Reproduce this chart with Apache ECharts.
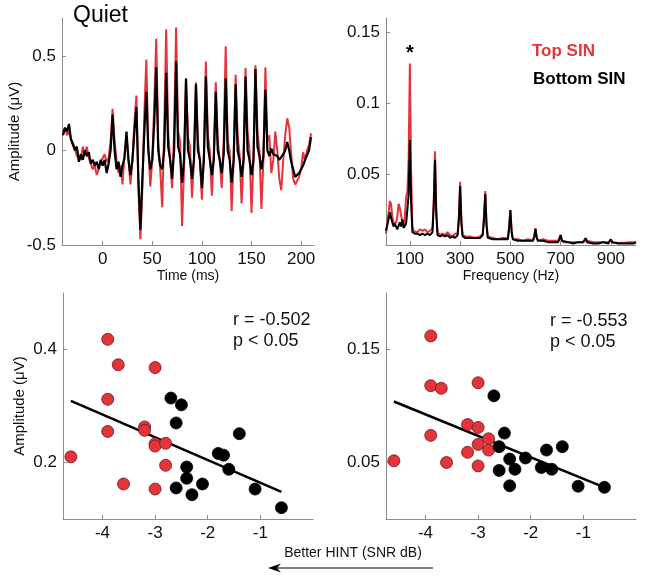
<!DOCTYPE html>
<html>
<head>
<meta charset="utf-8">
<script src="https://cdn.jsdelivr.net/npm/echarts@6/dist/echarts.min.js"></script>
<style>
html,body{margin:0;padding:0;background:#fff;}
#c{width:645px;height:582px;}
</style>
</head>
<body>
<div id="c"></div>
<script>
// ---------- Data ----------
// Panel A: response waveform (time in ms, amplitude in µV)
const erpTime = [
  -40,-38,-36,-34,-32,-30,-28,-26,-24,-22,
  -20,-18,-16,-14,-12,-10,-8,-6,-4,-2,
  0,2,4,6,8,10,12,14,16,18,
  20,22,24,26,28,30,32,34,36,38,
  40,42,44,46,48,50,52,54,56,58,
  60,62,64,66,68,70,72,74,76,78,
  80,82,84,86,88,90,92,94,96,98,
  100,102,104,106,108,110,112,114,116,118,
  120,122,124,126,128,130,132,134,136,138,
  140,142,144,146,148,150,152,154,156,158,
  160,162,164,166,168,170,172,174,176,178,
  180,182,184,186,188,190,192,194,196,198,
  200,202,204,206,208,210
];
const erpTop = [
  0.10,0.12,0.08,0.10,0.06,0.04,0.01,-0.03,-0.02,-0.05,
  0.02,-0.02,0.02,-0.04,-0.03,-0.10,-0.08,-0.13,-0.10,-0.06,
  -0.05,-0.02,-0.06,-0.04,0.05,0.22,0.05,-0.05,-0.12,-0.08,
  -0.18,-0.02,0.08,-0.05,-0.18,-0.05,0.15,0.29,-0.20,-0.47,
  -0.20,0.20,0.48,0.02,-0.19,-0.05,0.25,0.59,0.05,-0.10,
  -0.30,0.10,0.64,0.10,-0.05,-0.20,0.10,0.65,0.10,0.05,
  -0.40,-0.10,0.38,0.07,0.02,-0.25,-0.05,0.36,0.05,-0.05,
  -0.26,-0.02,0.47,0.08,0.00,-0.24,-0.02,0.36,0.05,-0.05,
  -0.20,0.05,0.55,0.05,0.00,-0.32,-0.05,0.40,0.08,-0.02,
  -0.28,-0.05,0.435,0.10,0.00,-0.33,-0.05,0.45,0.10,0.00,
  -0.31,-0.05,0.44,0.05,0.08,-0.12,-0.05,0.10,0.00,-0.15,
  -0.21,-0.05,0.08,0.17,0.12,-0.02,-0.15,-0.18,-0.17,-0.14,
  -0.10,-0.01,-0.05,0.00,0.03,0.09
];
const erpBottom = [
  0.08,0.12,0.10,0.14,0.06,0.05,0.00,0.02,-0.06,-0.02,
  -0.05,0.00,-0.03,-0.01,-0.07,-0.05,-0.08,-0.06,-0.10,-0.05,
  -0.08,-0.05,-0.12,-0.07,0.00,0.19,0.00,-0.10,-0.06,-0.14,
  -0.08,-0.04,0.10,-0.05,-0.13,-0.05,0.10,0.23,-0.15,-0.42,
  -0.15,0.10,0.31,0.00,-0.10,-0.05,0.15,0.44,0.00,-0.08,
  -0.10,0.00,0.41,0.02,-0.05,-0.15,0.00,0.47,0.02,-0.02,
  -0.17,-0.05,0.38,0.00,-0.05,-0.15,-0.05,0.35,0.00,-0.05,
  -0.20,-0.05,0.39,0.02,-0.05,-0.13,-0.05,0.31,0.00,-0.05,
  -0.12,-0.02,0.38,0.00,-0.05,-0.17,-0.05,0.35,0.00,-0.05,
  -0.14,-0.05,0.39,0.00,-0.05,-0.13,-0.05,0.43,0.02,-0.03,
  -0.10,-0.03,0.32,0.00,-0.03,0.01,-0.02,-0.01,-0.03,-0.05,
  -0.06,-0.02,0.00,0.045,0.00,-0.06,-0.10,-0.14,-0.15,-0.12,
  -0.10,-0.08,-0.05,-0.04,0.00,0.07
];

// Panel B: spectrum (frequency in Hz, amplitude in µV)
const specFreq = [
  5,10,15,20,25,30,35,40,45,50,
  55,60,65,70,75,80,85,90,95,100,
  105,110,115,120,130,140,150,160,170,180,
  190,195,200,205,210,220,230,240,250,260,
  270,280,290,295,300,305,310,320,340,360,
  380,390,395,400,405,410,430,450,470,490,
  495,500,505,510,530,550,570,590,595,600,
  605,610,630,650,670,690,695,700,705,710,
  730,750,770,790,795,800,805,810,830,850,
  870,890,895,900,905,910,930,950,970,990,
  1000
];
const specTop = [
  0.008,0.015,0.022,0.031,0.029,0.020,0.015,0.014,0.016,0.020,
  0.029,0.026,0.025,0.016,0.014,0.020,0.034,0.037,0.060,0.128,
  0.050,0.013,0.010,0.011,0.009,0.011,0.010,0.011,0.009,0.010,
  0.012,0.030,0.066,0.025,0.009,0.007,0.008,0.007,0.009,0.007,
  0.006,0.008,0.008,0.020,0.0446,0.018,0.007,0.006,0.006,0.005,
  0.006,0.008,0.020,0.038,0.016,0.006,0.005,0.004,0.005,0.005,
  0.012,0.0246,0.010,0.004,0.004,0.003,0.004,0.003,0.006,0.0115,
  0.005,0.003,0.004,0.003,0.003,0.003,0.004,0.007,0.004,0.002,
  0.002,0.002,0.002,0.002,0.003,0.0047,0.003,0.002,0.002,0.002,
  0.002,0.002,0.003,0.004,0.002,0.002,0.0015,0.0015,0.002,0.002,
  0.002
];
const specBottom = [
  0.010,0.014,0.018,0.023,0.022,0.016,0.013,0.015,0.013,0.011,
  0.012,0.016,0.013,0.018,0.012,0.013,0.015,0.016,0.035,0.074,
  0.030,0.009,0.008,0.008,0.008,0.007,0.008,0.007,0.008,0.007,
  0.009,0.028,0.060,0.022,0.007,0.006,0.007,0.006,0.007,0.005,
  0.006,0.005,0.007,0.018,0.0415,0.015,0.006,0.005,0.005,0.005,
  0.005,0.007,0.018,0.036,0.014,0.005,0.004,0.004,0.004,0.004,
  0.012,0.0246,0.009,0.004,0.003,0.003,0.003,0.003,0.006,0.0115,
  0.005,0.003,0.003,0.002,0.002,0.002,0.004,0.007,0.003,0.002,
  0.002,0.001,0.002,0.002,0.003,0.0047,0.002,0.001,0.001,0.001,
  0.002,0.001,0.002,0.004,0.002,0.001,0.001,0.001,0.001,0.001,
  0.002
];

// Panels C and D: HINT (SNR dB) vs amplitude
const hintTop    = [-4.6,-3.9,-3.9,-3.9,-3.7,-3.6,-3.2,-3.2,-3.0,-3.0,-3.0,-3.0,-2.8,-2.8];
const ampTopC    = [0.210,0.418,0.312,0.255,0.373,0.162,0.263,0.257,0.368,0.233,0.229,0.153,0.234,0.195];
const ampTopD    = [0.0515,0.162,0.118,0.074,0.1157,0.050,0.0836,0.059,0.1206,0.081,0.066,0.047,0.071,0.061];
const hintBottom = [-2.7,-2.6,-2.6,-2.5,-2.4,-2.4,-2.3,-2.1,-1.8,-1.7,-1.6,-1.4,-1.1,-0.6];
const ampBottomC = [0.314,0.270,0.155,0.302,0.192,0.172,0.143,0.162,0.216,0.213,0.188,0.251,0.153,0.120];
const ampBottomD = [0.109,0.064,0.043,0.076,0.053,0.0294,0.044,0.054,0.0456,0.061,0.044,0.064,0.029,0.028];

// Fit lines (end points)
const fitX  = [-4.6, -0.6];
const fitYC = [0.309, 0.148];
const fitYD = [0.104, 0.028];

// Tick labels
const timeTicks = [0, 50, 100, 150, 200];
const ampTicksA = [-0.5, 0, 0.5];
const freqTicks = [100, 300, 500, 700, 900];
const ampTicksB = [0.05, 0.1, 0.15];
const hintTicks = [-4, -3, -2, -1];
const ampTicksC = [0.2, 0.4];
const ampTicksD = [0.05, 0.15];

// ---------- Chart ----------
const RED = '#e5333a';
const FONT = '"Liberation Sans", Arial, Helvetica, sans-serif';
const AXC = '#8c8c8c';

function zip(a, b) { return a.map((v, i) => [v, b[i]]); }

function xAx(gi, min, max, ticks, name) {
  return {
    type: 'value', gridIndex: gi, min: min, max: max,
    name: name || '', nameLocation: 'middle', nameGap: 18,
    nameTextStyle: { fontSize: 14, color: '#111', fontFamily: FONT, verticalAlign: 'top' },
    axisLine: { show: true, onZero: false, lineStyle: { color: AXC, width: 1 } },
    axisTick: { show: true, inside: true, length: 4, customValues: ticks, lineStyle: { color: AXC } },
    axisLabel: { show: true, customValues: ticks, fontSize: 17, color: '#111', fontFamily: FONT, margin: 6 },
    splitLine: { show: false }
  };
}
function yAx(gi, min, max, ticks, name, gap) {
  return {
    type: 'value', gridIndex: gi, min: min, max: max,
    name: name || '', nameLocation: 'middle', nameGap: gap || 40,
    nameTextStyle: { fontSize: 15, color: '#111', fontFamily: FONT },
    axisLine: { show: true, onZero: false, lineStyle: { color: AXC, width: 1 } },
    axisTick: { show: true, inside: true, length: 4, customValues: ticks, lineStyle: { color: AXC } },
    axisLabel: { show: true, customValues: ticks, fontSize: 17, color: '#111', fontFamily: FONT, margin: 6 },
    splitLine: { show: false }
  };
}

const chart = echarts.init(document.getElementById('c'), null, { renderer: 'canvas' });

const scatterStyle = (color) => ({
  color: color, borderColor: color === RED ? '#6b1a1a' : '#000', borderWidth: 0.8, opacity: 1
});

chart.setOption({
  animation: false,
  backgroundColor: '#fff',
  grid: [
    { left: 62, top: 18, width: 252, height: 227, containLabel: false, outerBoundsMode: 'none' },
    { left: 386, top: 18, width: 250, height: 227, containLabel: false, outerBoundsMode: 'none' },
    { left: 63, top: 293, width: 250, height: 226, containLabel: false, outerBoundsMode: 'none' },
    { left: 386, top: 293, width: 250, height: 226, containLabel: false, outerBoundsMode: 'none' }
  ],
  xAxis: [
    xAx(0, -41, 213, timeTicks, 'Time (ms)'),
    xAx(1, 5, 1000, freqTicks, 'Frequency (Hz)'),
    xAx(2, -4.75, 0, hintTicks, ''),
    xAx(3, -4.75, 0, hintTicks, '')
  ],
  yAxis: [
    yAx(0, -0.5, 0.7, ampTicksA, 'Amplitude (μV)', 40),
    yAx(1, 0, 0.16, ampTicksB, '', 40),
    yAx(2, 0.1, 0.5, ampTicksC, 'Amplitude (μV)', 36),
    yAx(3, 0, 0.2, ampTicksD, '', 40)
  ],
  series: [
    { type: 'line', xAxisIndex: 0, yAxisIndex: 0, data: zip(erpTime, erpTop), showSymbol: false,
      lineStyle: { color: RED, width: 2 }, z: 2 },
    { type: 'line', xAxisIndex: 0, yAxisIndex: 0, data: zip(erpTime, erpBottom), showSymbol: false,
      lineStyle: { color: '#000', width: 2.2 }, z: 3 },
    { type: 'line', xAxisIndex: 1, yAxisIndex: 1, data: zip(specFreq, specTop), showSymbol: false,
      lineStyle: { color: RED, width: 2 }, z: 2 },
    { type: 'line', xAxisIndex: 1, yAxisIndex: 1, data: zip(specFreq, specBottom), showSymbol: false,
      lineStyle: { color: '#000', width: 2 }, z: 3 },
    { type: 'line', xAxisIndex: 2, yAxisIndex: 2, data: zip(fitX, fitYC), showSymbol: false,
      lineStyle: { color: '#000', width: 2.5 }, z: 2 },
    { type: 'scatter', xAxisIndex: 2, yAxisIndex: 2, data: zip(hintTop, ampTopC), symbolSize: 12,
      itemStyle: scatterStyle(RED), z: 3 },
    { type: 'scatter', xAxisIndex: 2, yAxisIndex: 2, data: zip(hintBottom, ampBottomC), symbolSize: 12,
      itemStyle: scatterStyle('#000'), z: 3 },
    { type: 'line', xAxisIndex: 3, yAxisIndex: 3, data: zip(fitX, fitYD), showSymbol: false,
      lineStyle: { color: '#000', width: 2.5 }, z: 2 },
    { type: 'scatter', xAxisIndex: 3, yAxisIndex: 3, data: zip(hintTop, ampTopD), symbolSize: 12,
      itemStyle: scatterStyle(RED), z: 3 },
    { type: 'scatter', xAxisIndex: 3, yAxisIndex: 3, data: zip(hintBottom, ampBottomD), symbolSize: 12,
      itemStyle: scatterStyle('#000'), z: 3 }
  ],
  graphic: [
    { type: 'text', left: 73, top: 4, style: { text: 'Quiet', fontSize: 23, fill: '#000', fontFamily: FONT } },
    { type: 'text', x: 410, y: 53, style: { text: '*', fontSize: 20, fontWeight: 'bold', fill: '#000', fontFamily: FONT, align: 'center', verticalAlign: 'middle' } },
    { type: 'text', x: 532, y: 51, style: { text: 'Top SIN', fontSize: 17, fontWeight: 'bold', fill: RED, fontFamily: FONT, verticalAlign: 'middle' } },
    { type: 'text', x: 533, y: 79, style: { text: 'Bottom SIN', fontSize: 17, fontWeight: 'bold', fill: '#000', fontFamily: FONT, verticalAlign: 'middle' } },
    { type: 'text', x: 233, y: 320, style: { text: 'r = -0.502', fontSize: 18, fill: '#111', fontFamily: FONT, verticalAlign: 'middle' } },
    { type: 'text', x: 233, y: 341, style: { text: 'p < 0.05', fontSize: 18, fill: '#111', fontFamily: FONT, verticalAlign: 'middle' } },
    { type: 'text', x: 550, y: 321, style: { text: 'r = -0.553', fontSize: 18, fill: '#111', fontFamily: FONT, verticalAlign: 'middle' } },
    { type: 'text', x: 550, y: 342, style: { text: 'p < 0.05', fontSize: 18, fill: '#111', fontFamily: FONT, verticalAlign: 'middle' } },
    { type: 'text', x: 353, y: 553, style: { text: 'Better HINT (SNR dB)', fontSize: 14, fill: '#111', fontFamily: FONT, align: 'center', verticalAlign: 'middle' } },
    { type: 'line', shape: { x1: 274, y1: 568, x2: 433, y2: 568 }, style: { stroke: '#000', lineWidth: 1 } },
    { type: 'polygon', shape: { points: [[268, 568], [281, 563.5], [277, 568], [281, 572.5]] }, style: { fill: '#000' } }
  ]
});
</script>
</body>
</html>
